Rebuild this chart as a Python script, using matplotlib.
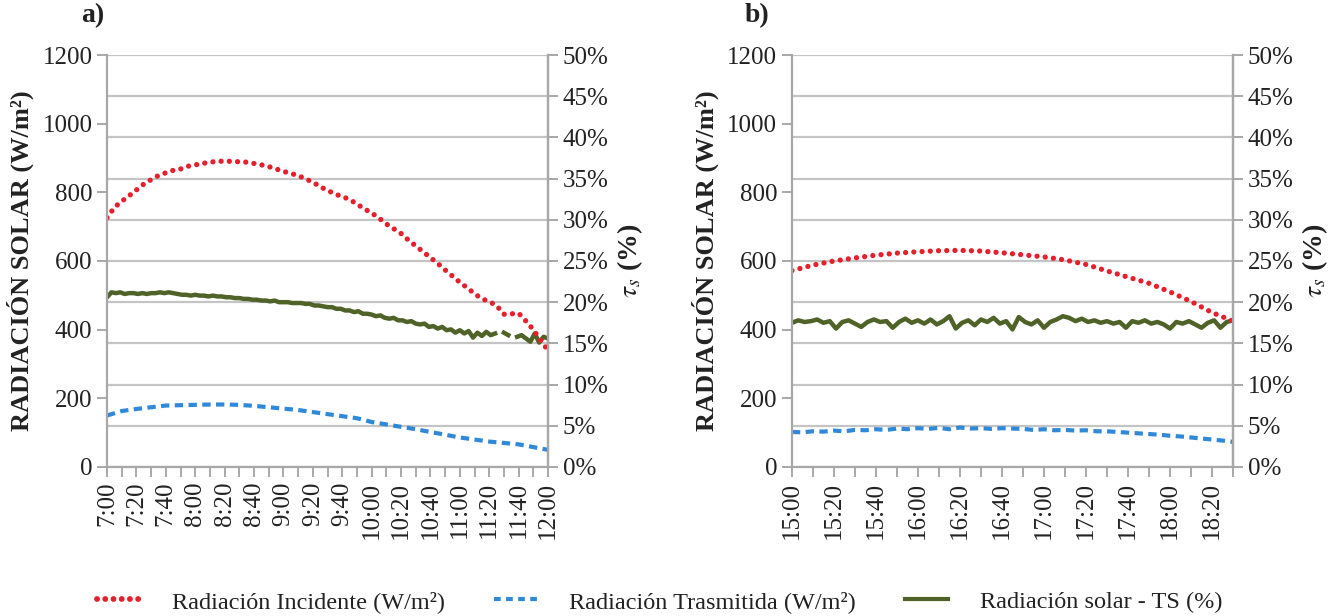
import numpy as np
import matplotlib
matplotlib.use("Agg")
import matplotlib.pyplot as plt
from matplotlib.lines import Line2D
from matplotlib.ticker import PercentFormatter

plt.rcParams['font.family'] = ['Liberation Serif', 'DejaVu Serif']
plt.rcParams['mathtext.fontset'] = 'stix'

# --- panel a) 7:00 - 12:00 ---
labels_a = ["7:00", "7:20", "7:40", "8:00", "8:20", "8:40", "9:00", "9:20",
            "9:40", "10:00", "10:20", "10:40", "11:00", "11:20", "11:40", "12:00"]
inc_a = [726, 756, 774, 790, 807, 824, 837, 849, 857, 864, 868, 876, 880, 884,
         888, 890, 891, 890, 889, 888, 884, 880, 875, 868, 861, 855, 849, 839,
         830, 816, 806, 795, 788, 779, 766, 752, 740, 725, 708, 694, 680, 661,
         644, 627, 610, 593, 574, 556, 538, 522, 505, 490, 482, 470, 445, 446,
         448, 425, 400, 368, 340]  # every 5 min
tra_a = [150, 163, 169, 174, 179, 180, 181, 182, 182, 181, 178, 174, 170, 166,
         160, 154, 148, 142, 131, 124, 117, 110, 102, 94, 86, 80, 74, 70, 66,
         58, 50]  # every 10 min
ts_a = [20.6, 21.2, 21.1, 21.2, 21.0, 21.1, 21.1, 21.0, 21.1, 21.0, 21.1, 21.1,
        21.2, 21.1, 21.2, 21.1, 21.0, 20.9, 20.9, 20.8, 20.9, 20.8, 20.8, 20.7,
        20.8, 20.7, 20.7, 20.6, 20.6, 20.5, 20.5, 20.4, 20.4, 20.3, 20.3, 20.2,
        20.2, 20.1, 20.2, 20.0, 20.0, 20.0, 19.9, 19.9, 19.9, 19.8, 19.8, 19.6,
        19.6, 19.5, 19.4, 19.4, 19.2, 19.2, 19.0, 19.0, 18.8, 18.9, 18.6, 18.6,
        18.5, 18.3, 18.4, 18.1, 18.0, 18.1, 17.8, 17.8, 17.6, 17.7, 17.4, 17.3,
        17.4, 17.0, 17.1, 16.8, 17.0, 16.6, 16.7, 16.3, 16.6, 16.2, 16.5, 15.7,
        16.3, 15.9, 16.4, 16.0, 16.2, np.nan, 16.3, 16.0, np.nan, 15.8, 16.0,
        15.6, 15.2, 16.2, 15.1, 15.8, 15.6]  # every 3 min

# --- panel b) 15:00 - 18:30 ---
labels_b = ["15:00", "15:20", "15:40", "16:00", "16:20", "16:40", "17:00",
            "17:20", "17:40", "18:00", "18:20"]
inc_b = [572, 588, 600, 609, 617, 623, 627, 630, 631, 629, 624, 618, 612, 603,
         590, 571, 553, 535, 510, 482, 450, 425]  # every 10 min
tra_b = [102, 101, 104, 103, 106, 104, 108, 107, 110, 108, 112, 110, 113, 111,
         114, 110, 115, 112, 113, 111, 113, 112, 111, 108, 110, 107, 108, 106,
         107, 104, 104, 102, 100, 98, 96, 94, 91, 89, 86, 83, 80, 77, 73]  # every 5 min
ts_b = [17.5, 17.8, 17.6, 17.7, 17.9, 17.5, 17.7, 16.8, 17.6, 17.8, 17.4, 17.0,
        17.6, 17.9, 17.6, 17.7, 16.9, 17.6, 18.0, 17.5, 17.8, 17.4, 17.9, 17.3,
        17.7, 18.3, 16.8, 17.5, 17.8, 17.2, 17.9, 17.6, 18.1, 17.4, 17.7, 16.7,
        18.2, 17.6, 17.3, 17.8, 16.9, 17.6, 17.9, 18.3, 18.1, 17.7, 18.0, 17.6,
        17.8, 17.5, 17.7, 17.4, 17.6, 16.9, 17.7, 17.5, 17.8, 17.4, 17.6, 17.3,
        16.8, 17.6, 17.4, 17.7, 17.3, 16.9, 17.5, 17.8, 16.9, 17.6, 17.8]  # every 3 min

RED = "#E3202B"
BLUE = "#2F88D8"
GREEN = "#4F6228"
GRID = "#C4C4C4"
SPINE = "#A8A8A8"
TXT = "#222222"

fig = plt.figure(figsize=(13.33, 6.16), dpi=100)


def panel(rect, span, labels, inc, tra, ts, tag, tag_x):
    ax = fig.add_axes(rect)
    ax2 = ax.twinx()
    ax.set_zorder(ax2.get_zorder() + 1)
    ax.patch.set_visible(False)

    t_inc = np.linspace(0, span, len(inc))
    t_tra = np.linspace(0, span, len(tra))
    t_ts = np.linspace(0, span, len(ts))

    ax.plot(t_inc, inc, color=RED, lw=3.8, linestyle=(0, (0.01, 1.55)),
            dash_capstyle="round")
    ax.plot(t_tra, tra, color=BLUE, lw=3.0, linestyle=(0, (2.0, 1.3)),
            dash_capstyle="butt")
    ax2.plot(t_ts, ts, color=GREEN, lw=3.2)

    ax.set_xlim(0, span)
    ax.set_ylim(0, 1200)
    ax.set_yticks(np.arange(0, 1201, 200))
    ax2.set_ylim(0, 50)
    ax2.set_yticks(np.arange(0, 51, 5))
    ax2.yaxis.set_major_formatter(PercentFormatter(decimals=0))
    ax2.grid(True, axis="y", color=GRID, lw=1.6)

    ticks = np.arange(0, span + 1, 10)
    ticklabels = [labels[i // 2] if i % 2 == 0 and i // 2 < len(labels) else ""
                  for i in range(len(ticks))]
    ax.set_xticks(ticks)
    ax.set_xticklabels(ticklabels, rotation=90)

    for a in (ax, ax2):
        for s in a.spines.values():
            s.set_color(SPINE)
            s.set_linewidth(1.6)
        a.spines["top"].set_visible(False)
        a.tick_params(colors=SPINE, labelcolor=TXT, labelsize=18, width=1.4,
                      length=7)
    ax2.spines["left"].set_visible(False)
    ax2.spines["bottom"].set_visible(False)

    ax.set_ylabel("RADIACIÓN SOLAR (W/m²)", fontsize=19, fontweight="bold",
                  color=TXT, labelpad=6)
    ax2.set_ylabel(r"$\tau_s$ (%)", fontsize=20, fontweight="bold",
                   color=TXT, labelpad=5)
    ax.text(tag_x, 1.065, tag, transform=ax.transAxes, fontsize=20,
            fontweight="bold", color=TXT, ha="center", va="bottom")
    return ax


panel([0.0803, 0.2419, 0.3308, 0.6688], 300, labels_a, inc_a, tra_a, ts_a,
      "a)", -0.032)
panel([0.5941, 0.2419, 0.3309, 0.6688], 210, labels_b, inc_b, tra_b, ts_b,
      "b)", -0.079)

handles = [
    Line2D([], [], color=RED, lw=4.2, linestyle=(0, (0.01, 1.4)),
           dash_capstyle="round"),
    Line2D([], [], color=BLUE, lw=3.0, linestyle=(0, (1.6, 1.3))),
    Line2D([], [], color=GREEN, lw=3.0),
]
names = ["Radiación Incidente (W/m²)", "Radiación Trasmitida (W/m²)",
         "Radiación solar - TS (%)"]
fig.legend(handles, names, loc="lower center", bbox_to_anchor=(0.495, -0.03),
           ncol=3, frameon=False, fontsize=17.5, handlelength=1.8,
           handletextpad=1.3, columnspacing=2.0, labelcolor=TXT)

fig.savefig("out.png", dpi=100)
